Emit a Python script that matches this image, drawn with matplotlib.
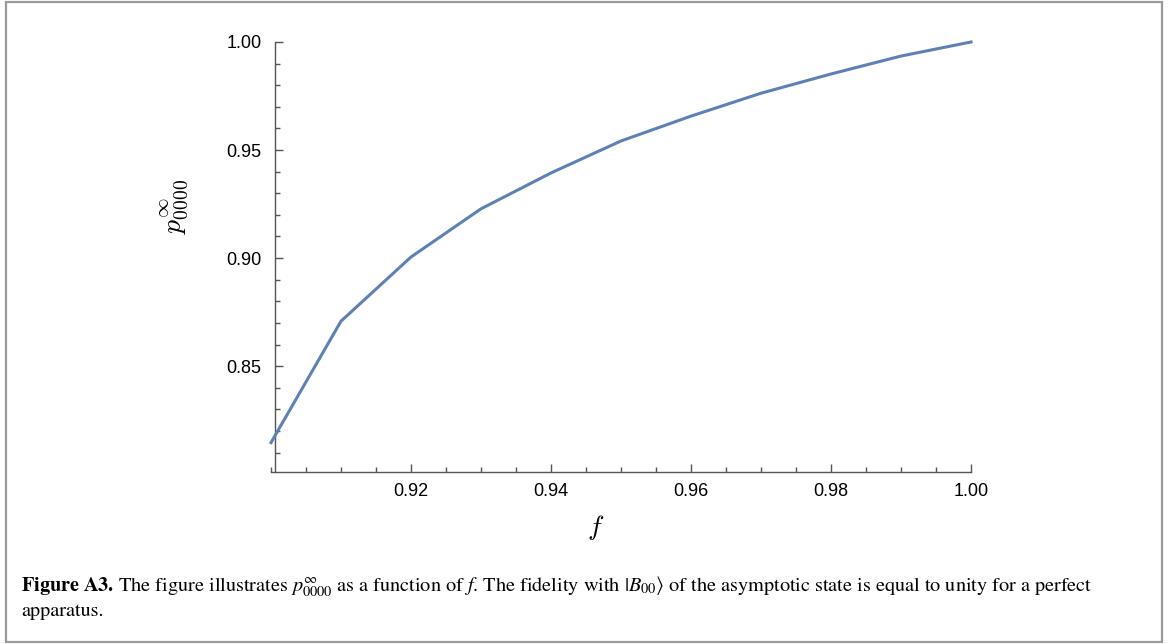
#!/bin/py
#
# asymptotic population p_0000 vs fidelity f
#
import numpy as np
import matplotlib
matplotlib.use('Agg')
import matplotlib.pyplot as plt
from matplotlib.patches import Rectangle
from matplotlib.ticker import MultipleLocator, FormatStrFormatter

f_vals = [0.90, 0.91, 0.92, 0.93, 0.94, 0.95, 0.96, 0.97, 0.98, 0.99, 1.00]
p_vals = [0.8146, 0.8708, 0.9005, 0.9228, 0.9394, 0.9542, 0.9657, 0.9763, 0.9852, 0.9935, 1.0000]

xticks = [0.92, 0.94, 0.96, 0.98, 1.00]
yticks = [0.85, 0.90, 0.95, 1.00]

line_col = '#5E81B5'
axis_col = '#555555'


def main():
    fig = plt.figure(figsize=(11.68, 6.44), dpi=100)

    # gray frame round the whole figure
    fig.patches.append(Rectangle((6/1168., 2/644.), 1156/1168., 640/644.,
                                 transform=fig.transFigure, fill=False,
                                 edgecolor='#999999', linewidth=1.6))

    ax = fig.add_axes([271/1168., 172/644., 700/1168., 430/644.])
    ax.plot(f_vals, p_vals, color=line_col, linewidth=2.2,
            solid_joinstyle='miter', clip_on=False, zorder=3)

    ax.set_xlim(0.9, 1.0)
    ax.set_ylim(0.801, 1.0)

    ax.spines['top'].set_visible(False)
    ax.spines['right'].set_visible(False)
    ax.spines['left'].set_position(('data', 0.9006))
    for s in ('left', 'bottom'):
        ax.spines[s].set_color(axis_col)
        ax.spines[s].set_linewidth(1.0)

    ax.set_xticks(xticks)
    ax.set_yticks(yticks)
    ax.xaxis.set_minor_locator(MultipleLocator(0.005))
    ax.yaxis.set_minor_locator(MultipleLocator(0.01))
    ax.xaxis.set_major_formatter(FormatStrFormatter('%.2f'))
    ax.yaxis.set_major_formatter(FormatStrFormatter('%.2f'))

    ax.tick_params(which='both', direction='in', color=axis_col, width=1.0,
                   labelsize=13, labelcolor='black')
    ax.tick_params(which='major', length=6)
    ax.tick_params(which='minor', length=3.5)
    ax.tick_params(axis='x', pad=8)
    ax.tick_params(axis='y', pad=10)
    for lab in ax.get_xticklabels() + ax.get_yticklabels():
        lab.set_fontfamily('Liberation Sans')

    # axis labels
    fig.text(175/1168., 1 - 207/644., r'$p^{\infty}_{0000}$', fontsize=20,
             rotation=90, ha='center', va='center', math_fontfamily='cm')
    fig.text(596/1168., 1 - 527/644., r'$f$', fontsize=20,
             ha='center', va='center', math_fontfamily='cm')

    # caption
    cap1 = (r'$\mathbf{Figure\ A3.}\,$The figure illustrates $p^{\infty}_{0000}$ '
            r'as a function of $f$. The fidelity with $|B_{00}\rangle$ of the '
            r'asymptotic state is equal to unity for a perfect')
    cap2 = 'apparatus.'
    fig.text(21/1168., 1 - 587/644., cap1, fontsize=14.6, family='STIXGeneral',
             math_fontfamily='stix', ha='left', va='center')
    fig.text(21/1168., 1 - 611/644., cap2, fontsize=14.6, family='STIXGeneral',
             ha='left', va='center')

    plt.savefig('out.png', dpi=100)


main()
